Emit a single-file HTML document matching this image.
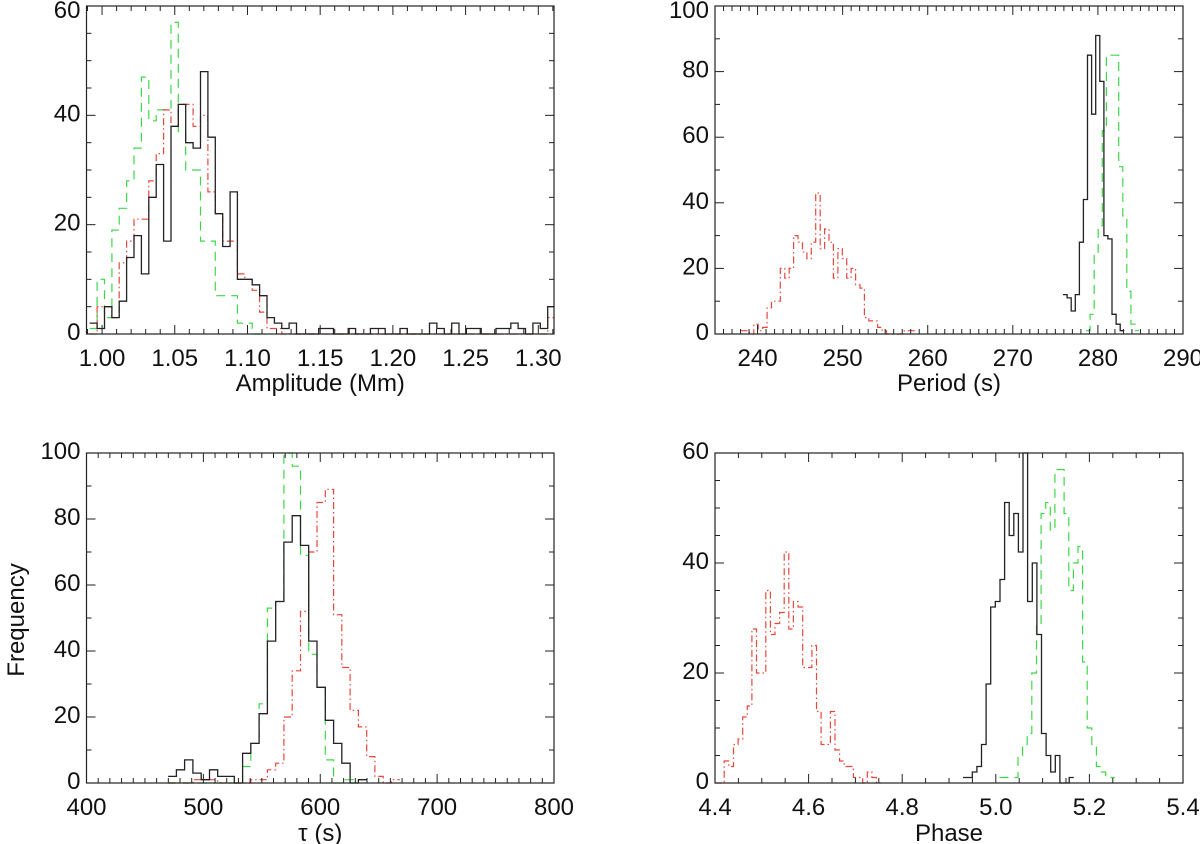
<!DOCTYPE html>
<html><head><meta charset="utf-8">
<style>
html,body{margin:0;padding:0;background:#fff;}
svg{display:block;font-family:"Liberation Sans",Arial,sans-serif;}
</style></head>
<body>
<svg id="fig" width="1200" height="844" viewBox="0 0 1200 844" xmlns="http://www.w3.org/2000/svg"></svg>
<script>
// ---------- Data ----------
// Panel A: Amplitude (Mm)
const ampBlackStart = 0.9915, ampBinW = 0.00508;
const ampBlack = [2,1,5,3,6,14,18,11,25,31,17,38,42,35,34,48,36,22,16,26,10,10,9,7,3,2,1,2,0,0,0,1,1,0,0,1,0,0,1,1,0,0,1,0,0,0,2,1,0,2,0,1,1,0,0,1,1,2,1,0,2,1,5];
const ampRed = [0,5,5,3,13,17,21,21,28,33,41,38,42,42,38,40,26,22,17,17,11,10,8,4,1,1,0,0,0,0,0,0,0,0,0,0,0,0,0,0,0,0,0,0,0,0,0,0,0,0,0,0,0,0,0,0,0,0,0,0,0,0,3];
const ampGreen = [1,10,3,19,23,28,34,47,39,41,41,57,37,30,30,17,17,7,7,7,2,2,0];
const ampYTicks = [0,20,40,60];
const ampXTicks = ["1.00","1.05","1.10","1.15","1.20","1.25","1.30"];

// Panel B: Period (s)
const perBlackStart = 275.9, perBlackW = 0.48;
const perBlack = [12,11,7,12,28,41,85,67,91,77,30,29,6,3,1];
const perGreenStart = 278.6, perGreenW = 0.48;
const perGreen = [1,6,24,33,62,85,85,85,51,36,13,3,1];
const perRedStart = 238.0, perRedW = 0.52;
const perRed = [1,1,0,3,1,2,8,10,10,20,17,20,30,28,25,23,28,43,26,32,28,17,26,23,17,20,15,14,5,4,4,2,1,0,0,0,0,1,1,1];
const perYTicks = [0,20,40,60,80,100];
const perXTicks = ["240","250","260","270","280","290"];

// Panel C: tau (s)
const tauStart = 469.8, tauW = 7.08;
const tauBlack = [2,4,7,3,1,4,2,2,0,9,12,21,43,55,73,81,72,43,29,19,12,6,0,1];
const tauGreen = [0,0,0,0,0,0,0,0,0,5,12,24,53,55,100,96,69,39,29,7,0,1,1];
const tauRed = [0,0,0,1,1,1,0,0,0,0,1,1,4,6,20,34,52,70,85,89,51,35,22,17,8,2,0,1];
const tauYTicks = [0,20,40,60,80,100];
const tauXTicks = ["400","500","600","700","800"];

// Panel D: Phase
const phBlackStart = 4.930, phW = 0.00986;
const phBlack = [1,1,2,3,7,18,32,33,37,51,45,49,42,60,33,40,27,9,5,2,5,0,0,1];
const phGreenStart = 5.008;
const phGreen = [1,1,1,1,5,7,9,20,29,49,51,46,57,57,49,35,40,43,22,10,7,3,2,1,1];
const phRedStart = 4.40;
const phRed = [0,0,4,3,7,8,12,14,28,20,20,35,27,29,31,42,28,33,32,21,21,25,13,7,7,13,6,4,3,3,1,1,0,2,1,0];
const phYTicks = [0,20,40,60];
const phXTicks = ["4.4","4.6","4.8","5.0","5.2","5.4"];

// ---------- Drawing ----------
const NS = "http://www.w3.org/2000/svg";
const svg = document.getElementById('fig');
function mk(tag, attrs, parent){
  const e = document.createElementNS(NS, tag);
  for (const k in attrs) e.setAttribute(k, attrs[k]);
  (parent||svg).appendChild(e);
  return e;
}
const STYLE = {
  black: {stroke:'#222', dash:'', w:1.3},
  red: {stroke:'#e8473c', dash:'7,3,1.5,3', w:1.2},
  green: {stroke:'#3fd74a', dash:'9,6', w:1.2}
};
const FS = 24;

function panel(p){
  const g = mk('g', {});
  
  
  const sx = v => p.x0 + (v - p.xmin) / (p.xmax - p.xmin) * (p.x1 - p.x0);
  const sy = v => p.y1 - (v - p.ymin) / (p.ymax - p.ymin) * (p.y1 - p.y0);
  const clipId = 'clip-' + p.name;
  const cp = mk('clipPath', {id: clipId}, g);
  mk('rect', {x:p.x0, y:p.y0-1, width:p.x1-p.x0, height:p.y1-p.y0+2}, cp);
  const sg = mk('g', {'clip-path':'url(#'+clipId+')'}, g);
  p.series.forEach(s => {
    let d = '';
    s.values.forEach((v, i) => {
      const xa = sx(s.start + i*s.w), xb = sx(s.start + (i+1)*s.w), y = sy(v);
      d += (i === 0 ? 'M' : 'L') + xa.toFixed(1) + ',' + y.toFixed(1) + 'L' + xb.toFixed(1) + ',' + y.toFixed(1);
    });
    const st = STYLE[s.color];
    const path = mk('path', {d:d, fill:'none', stroke:st.stroke, 'stroke-width':st.w, 'stroke-dasharray':st.dash}, sg);
    
    
  });
  const frame = mk('rect', {x:p.x0, y:p.y0, width:p.x1-p.x0, height:p.y1-p.y0, fill:'none', stroke:'#222', 'stroke-width':1.2}, g);
  
  
  const tk = mk('g', {stroke:'#222', 'stroke-width':1}, g);
  const nx = p.xTicks.length;
  const xStep = (parseFloat(p.xTicks[nx-1]) - parseFloat(p.xTicks[0])) / (nx - 1);
  const first = parseFloat(p.xTicks[0]);
  for (let k = -1; k < nx; k++){
    for (let m = 0; m < p.xMinor; m++){
      const v = first + k*xStep + m*xStep/p.xMinor;
      if (v < p.xmin - 1e-9 || v > p.xmax + 1e-9) continue;
      const L = m === 0 ? 9 : 5, X = sx(v);
      mk('line', {x1:X, y1:p.y1, x2:X, y2:p.y1-L}, tk);
      mk('line', {x1:X, y1:p.y0, x2:X, y2:p.y0+L}, tk);
    }
  }
  p.xTicks.forEach(t => {
    const lab = mk('text', {x:sx(parseFloat(t)), y:p.y1+32, 'text-anchor':'middle', 'font-size':FS, fill:'#111'}, g);
    lab.textContent = t;
    
    
  });
  const ny = p.yTicks.length;
  const yStep = p.yTicks[1] - p.yTicks[0];
  for (let k = 0; k < ny; k++){
    for (let m = 0; m < p.yMinor; m++){
      const v = p.yTicks[0] + k*yStep + m*yStep/p.yMinor;
      if (v > p.ymax + 1e-9) continue;
      const L = m === 0 ? 9 : 5, Y = sy(v);
      mk('line', {x1:p.x0, y1:Y, x2:p.x0+L, y2:Y}, tk);
      mk('line', {x1:p.x1, y1:Y, x2:p.x1-L, y2:Y}, tk);
    }
  }
  p.yTicks.forEach(t => {
    const lab = mk('text', {x:p.x0-6, y:Math.max(sy(t)+6, 18), 'text-anchor':'end', 'font-size':FS, fill:'#111'}, g);
    lab.textContent = String(t);
    
    
  });
  const title = mk('text', {x:(p.x0+p.x1)/2, y:p.y1+p.titleDy, 'text-anchor':'middle', 'font-size':FS, fill:'#111'}, g);
  title.textContent = p.xTitle;
  
  
}

panel({name:'amplitude-panel', x0:86.5, x1:554, y0:6, y1:334, xmin:0.9893, xmax:1.3108, ymin:0, ymax:60,
  xTicks:ampXTicks, xMinor:5, yTicks:ampYTicks, yMinor:4, xTitle:'Amplitude (Mm)', titleDy:57,
  series:[
    {color:'green', start:ampBlackStart, w:ampBinW, values:ampGreen},
    {color:'red', start:ampBlackStart, w:ampBinW, values:ampRed},
    {color:'black', start:ampBlackStart, w:ampBinW, values:ampBlack}]});
panel({name:'period-panel', x0:715, x1:1183, y0:6, y1:334, xmin:235, xmax:290, ymin:0, ymax:100,
  xTicks:perXTicks, xMinor:10, yTicks:perYTicks, yMinor:2, xTitle:'Period (s)', titleDy:57,
  series:[
    {color:'green', start:perGreenStart, w:perGreenW, values:perGreen},
    {color:'red', start:perRedStart, w:perRedW, values:perRed},
    {color:'black', start:perBlackStart, w:perBlackW, values:perBlack}]});
panel({name:'tau-panel', x0:86.5, x1:554, y0:453, y1:783, xmin:400, xmax:800, ymin:0, ymax:100,
  xTicks:tauXTicks, xMinor:10, yTicks:tauYTicks, yMinor:2, xTitle:'τ (s)', titleDy:58,
  series:[
    {color:'green', start:tauStart, w:tauW, values:tauGreen},
    {color:'red', start:tauStart, w:tauW, values:tauRed},
    {color:'black', start:tauStart, w:tauW, values:tauBlack}]});
panel({name:'phase-panel', x0:715, x1:1183, y0:453, y1:783, xmin:4.4, xmax:5.4, ymin:0, ymax:60,
  xTicks:phXTicks, xMinor:4, yTicks:phYTicks, yMinor:4, xTitle:'Phase', titleDy:58,
  series:[
    {color:'green', start:phGreenStart, w:phW, values:phGreen},
    {color:'red', start:phRedStart, w:phW, values:phRed},
    {color:'black', start:phBlackStart, w:phW, values:phBlack}]});

const yl = mk('text', {x:0, y:0, transform:'translate(24,620) rotate(-90)', 'text-anchor':'middle', 'font-size':FS, fill:'#111'});
yl.textContent = 'Frequency';


</script>
</body></html>
